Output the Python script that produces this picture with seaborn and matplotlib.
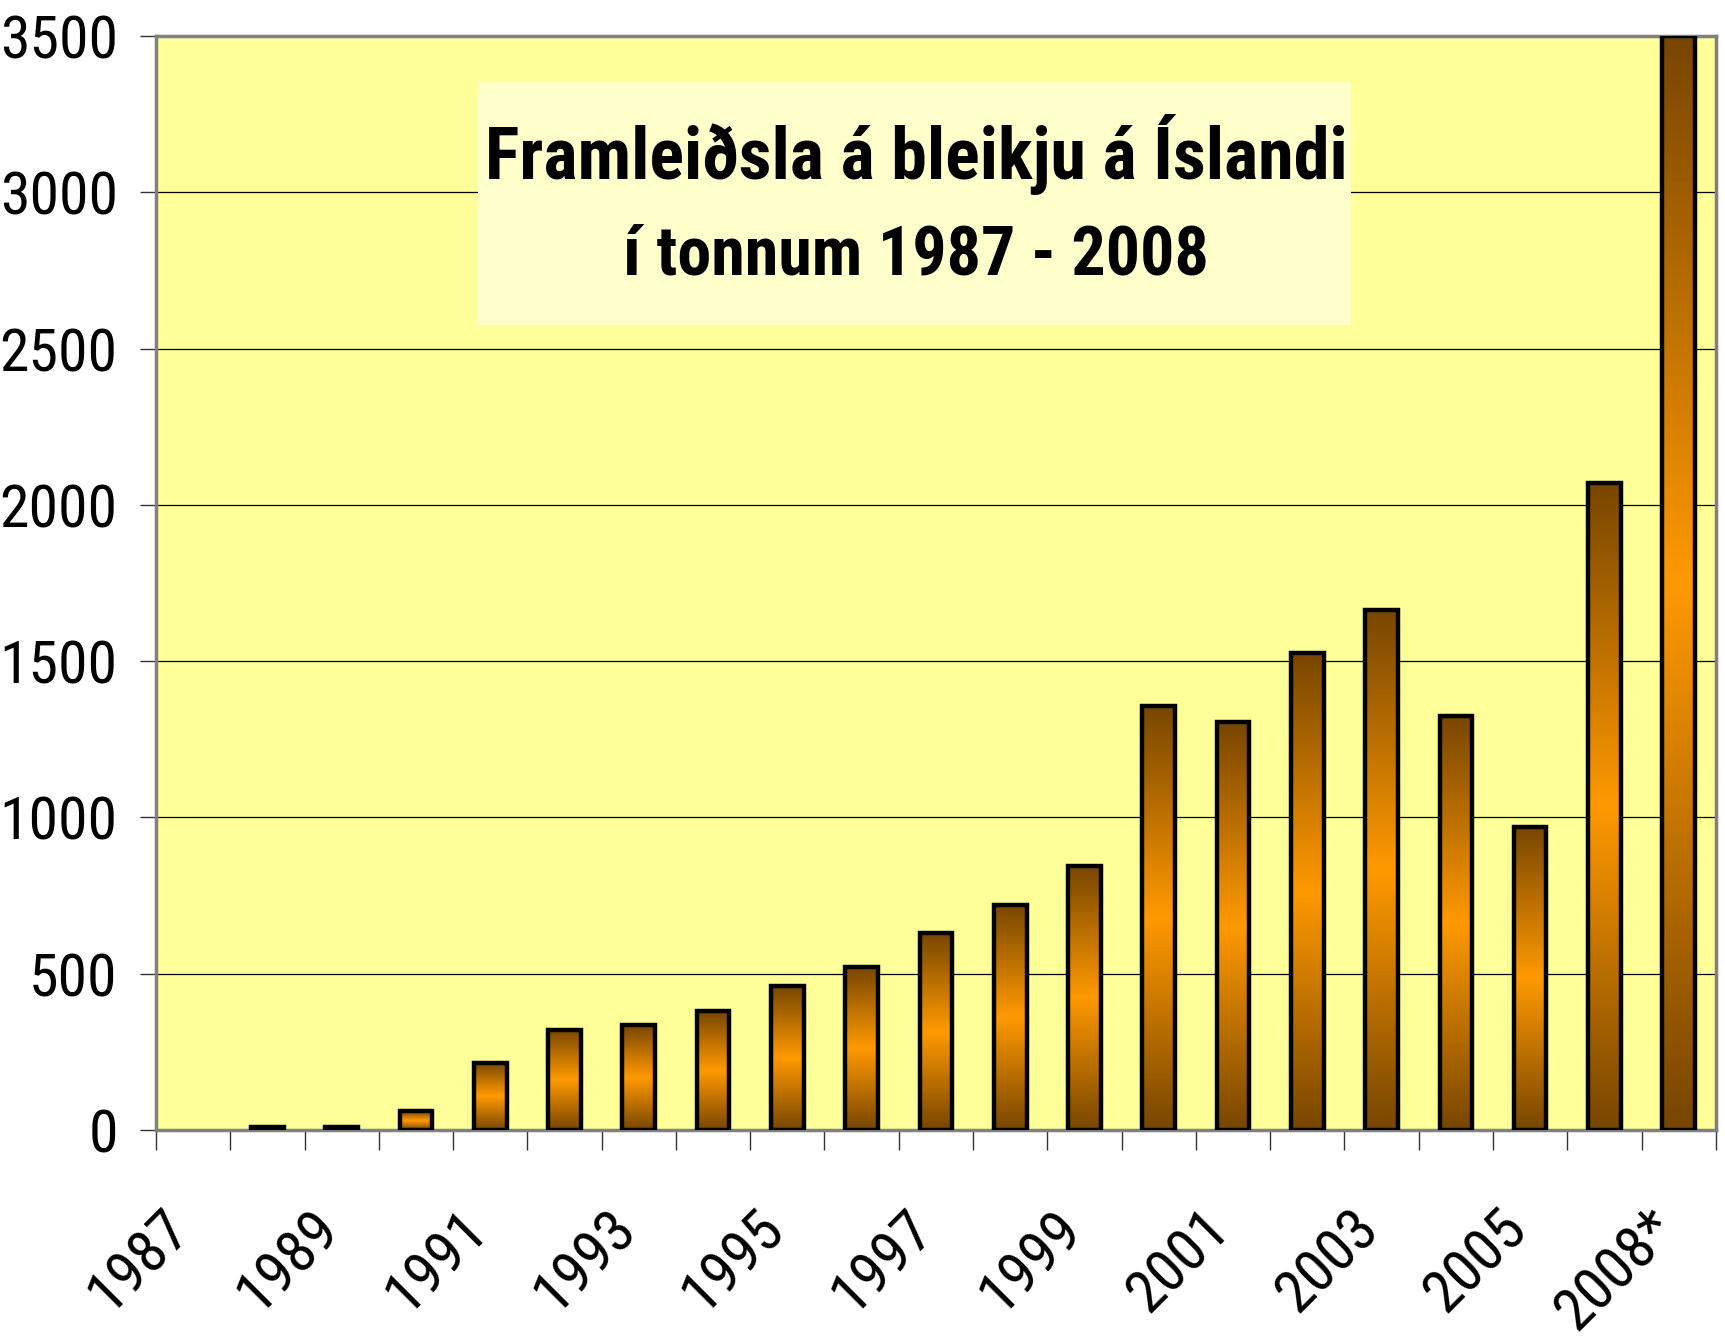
import numpy as np
import pandas as pd
import matplotlib
matplotlib.use("Agg")
import matplotlib.pyplot as plt
import matplotlib.transforms as mtransforms
from matplotlib import font_manager
from matplotlib.colors import LinearSegmentedColormap
from matplotlib.patches import Rectangle
import seaborn as sns

# data (tonnes of Arctic char)
years = [str(y) for y in range(1987, 2007)] + ["2008*"]
tonnes = [0, 10, 10, 60, 215, 320, 335, 380, 460, 520, 630, 720,
          845, 1355, 1305, 1525, 1665, 1325, 970, 2070, 3500]
shown_labels = years[::2]
y_ticks = list(range(0, 3501, 500))
title_lines = ["Framleiðsla á bleikju á Íslandi", "í tonnum 1987 - 2008"]

# pick a narrow sans face (Arial Narrow look-alike)
fonts = font_manager.fontManager.ttflist
candidates = ["Roboto Condensed", "Archivo Narrow", "PT Sans Narrow",
              "Fira Sans Condensed", "IBM Plex Sans Condensed", "Liberation Sans"]
def has_static(name, bold):
    for f in fonts:
        if f.name == name and "[" not in f.fname and f.style == "normal":
            w = f.weight if isinstance(f.weight, int) else 400
            if (w >= 700) == bold:
                return True
    return False
tick_font = next((n for n in candidates if has_static(n, False)), "Liberation Sans")
title_font = next((n for n in candidates if has_static(n, True)), "Liberation Sans")

sns.set_theme(style="white")
plt.rcParams["font.family"] = [tick_font, "DejaVu Sans"]

fig = plt.figure(figsize=(17.25, 13.44), dpi=100)
ax = fig.add_axes([0.0904, 0.1592, 0.9043, 0.814])
ax.set_facecolor("#FFFF99")

df = pd.DataFrame({"year": years, "tonnes": tonnes})
sns.barplot(data=df, x="year", y="tonnes", color="#FF9900", width=0.44,
            edgecolor="black", linewidth=3.2, ax=ax, zorder=3)

# vertical dark-orange-dark gradient inside each bar
cmap = LinearSegmentedColormap.from_list("bar", ["#784600", "#FF9900", "#784600"])
grad = np.linspace(0, 1, 256).reshape(-1, 1)
for p in list(ax.patches):
    x0, w, h = p.get_x(), p.get_width(), p.get_height()
    if h <= 0:
        p.set_linewidth(0)
        continue
    im = ax.imshow(grad, cmap=cmap, extent=[x0, x0 + w, 0, h], aspect="auto",
                   origin="upper", interpolation="bilinear", zorder=2.9)
    im.set_clip_path(p)
    p.set_facecolor("none")

ax.set_xlim(-0.5, len(years) - 0.5)
ax.set_ylim(0, 3500)
ax.set_xlabel("")
ax.set_ylabel("")

ax.yaxis.grid(True, color="black", linewidth=0.9)
ax.set_axisbelow(True)
for s in ax.spines.values():
    s.set_color("#808080")
    s.set_linewidth(2.5)

ax.set_yticks(y_ticks)
ax.tick_params(axis="y", left=True, length=11.5, width=1, color="#333333",
               pad=16, labelsize=43, labelcolor="black")

ax.set_xticks(np.arange(0, len(years), 2), shown_labels)
ax.set_xticks(np.arange(-0.5, len(years)), minor=True)
ax.tick_params(axis="x", which="major", bottom=True, length=0, pad=50,
               labelsize=43, labelcolor="black")
ax.tick_params(axis="x", which="minor", bottom=True, length=14.4, width=1,
               color="#333333", direction="out")
shift = mtransforms.ScaledTranslation(0.08, 0, fig.dpi_scale_trans)
for lbl in ax.get_xticklabels():
    lbl.set_rotation(45)
    lbl.set_ha("right")
    lbl.set_va("top")
    lbl.set_transform(lbl.get_transform() + shift)

# title box
fig.add_artist(Rectangle((0.2771, 0.7582), 0.5061, 0.1808, transform=fig.transFigure,
                         facecolor="#FFFFCC", edgecolor="none", zorder=5))
for txt, yb, fs in zip(title_lines, [0.8668, 0.7961], [52, 49]):
    fig.text(0.531, yb, txt, ha="center", va="baseline", fontsize=fs,
             fontweight="bold", color="black", family=[title_font, "DejaVu Sans"], zorder=6)

fig.savefig("out.png", dpi=100, facecolor="white")
